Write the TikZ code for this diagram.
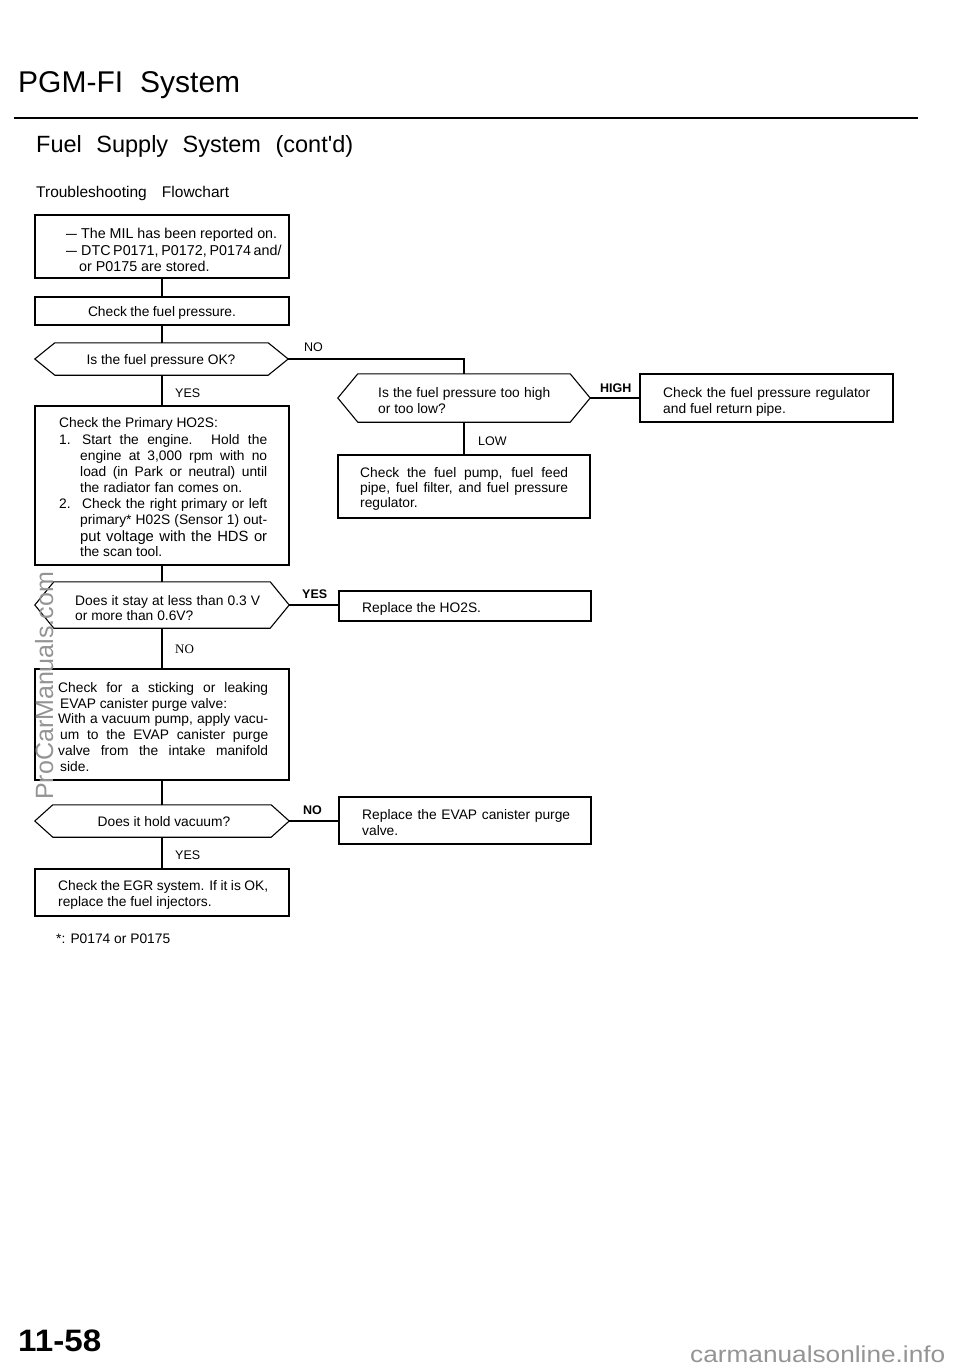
\documentclass[tikz,border=0pt]{standalone}
\usepackage{fontspec}
\setmainfont{Liberation Sans}
\newfontfamily\serfont{Liberation Serif}
\newcommand\jl[2]{\makebox[#1pt][s]{#2}}
\newcommand\hexdraw[2]{\draw[ln] (#1.west) -- ([xshift=#2]#1.north west) -- ([xshift=-#2]#1.north east) -- (#1.east) -- ([xshift=-#2]#1.south east) -- ([xshift=#2]#1.south west) -- cycle;}
\begin{document}
\begin{tikzpicture}[x=1pt,y=-1pt,
  ln/.style={line width=1.1pt},
  boxn/.style={draw, line width=1.1pt, inner sep=0pt},
  hexn/.style={inner sep=0pt},
  tx/.style={anchor=base west, inner sep=0pt, font=\fontsize{13.8}{16}\selectfont},
  lab/.style={anchor=base west, inner sep=0pt, font=\fontsize{12.5}{15}\selectfont},
  blab/.style={anchor=base west, inner sep=0pt, font=\bfseries\fontsize{12.5}{15}\selectfont},
  slab/.style={anchor=base west, inner sep=0pt, font=\serfont\fontsize{13}{15}\selectfont},
  wm/.style={anchor=base west, inner sep=0pt, text=black!42}]
\useasboundingbox (0,0) rectangle (960,1371);

% headings
\node[anchor=base west, inner sep=0pt, font=\fontsize{30}{34}\selectfont] (title) at (18,92) {\jl{222}{PGM-FI System}};
\draw[line width=2pt] (14,118) coordinate (r1) -- (918,118) coordinate (r2);
\node[anchor=base west, inner sep=0pt, font=\fontsize{23.5}{27}\selectfont] (sub) at (36,152) {\jl{317}{Fuel Supply System (cont\textquotesingle d)}};
\node[anchor=base west, inner sep=0pt, font=\fontsize{15.5}{18}\selectfont] (tf) at (36,197) {\jl{193}{Troubleshooting Flowchart}};

% shapes
\node[boxn, minimum width=254pt, minimum height=63pt] (b1) at (162,246.5) {};
\node[boxn, minimum width=254pt, minimum height=28pt] (b2) at (162,311) {};
\node[hexn, minimum width=253pt, minimum height=32pt] (q1) at (161.5,359) {};
\hexdraw{q1}{20pt}
\node[boxn, minimum width=254pt, minimum height=159pt] (b3) at (162,485.5) {};
\node[hexn, minimum width=254pt, minimum height=46pt] (q3) at (162,605) {};
\hexdraw{q3}{19pt}
\node[boxn, minimum width=254pt, minimum height=111pt] (b4) at (162,724.5) {};
\node[hexn, minimum width=254pt, minimum height=32pt] (q4) at (162,821) {};
\hexdraw{q4}{18pt}
\node[boxn, minimum width=254pt, minimum height=47pt] (b5) at (162,892.5) {};

\node[hexn, minimum width=252pt, minimum height=48pt] (q2) at (464,398) {};
\hexdraw{q2}{20pt}
\node[boxn, minimum width=253pt, minimum height=48pt] (hi) at (766.5,398) {};
\node[boxn, minimum width=252pt, minimum height=63pt] (low) at (464,486.5) {};
\node[boxn, minimum width=252pt, minimum height=30pt] (ho) at (465,606) {};
\node[boxn, minimum width=252pt, minimum height=47pt] (ev) at (465,820.5) {};

% connectors
\draw[ln] (b1.south) -- (b2.north);
\draw[ln] (b2.south) -- (q1.north -| b2.south);
\draw[ln] (q1.south -| b2.south) -- (b3.north);
\draw[ln] (b3.south) -- (q3.north);
\draw[ln] (q3.south) -- (b4.north);
\draw[ln] (b4.south) -- (q4.north);
\draw[ln] (q4.south) -- (b5.north);
\draw[ln] (q1.east) -| (q2.north);
\draw[ln] (q2.east) -- (hi.west);
\draw[ln] (q2.south) -- (low.north);
\draw[ln] (q3.east) -- (q3.east -| ho.west);
\draw[ln] (q4.east) -- (q4.east -| ev.west);

% labels
\node[lab] (lno1) at (304,351) {NO};
\node[lab] (lyes1) at (175,397) {YES};
\node[blab] (lhigh) at (600,392) {HIGH};
\node[lab] (llow) at (478,445) {LOW};
\node[blab] (lyes2) at (302,598) {YES};
\node[slab] (lno2) at (175,653) {NO};
\node[blab] (lno3) at (303,814) {NO};
\node[lab] (lyes3) at (175,859) {YES};

% box 1
\node[tx, font=\fontsize{14.3}{16}\selectfont] (d1) at (66,238) {\scalebox{0.76}[1]{—}};
\node[tx, font=\fontsize{14.3}{16}\selectfont] (t1a) at (81,238) {\jl{196}{The MIL has been reported on.}};
\node[tx, font=\fontsize{14.3}{16}\selectfont] (d2) at (66,255) {\scalebox{0.76}[1]{—}};
\node[tx, font=\fontsize{14.3}{16}\selectfont] (t1b) at (81,255) {\jl{196}{DTC P0171, P0172, P0174 and/}};
\node[tx, font=\fontsize{14.3}{16}\selectfont] (t1c) at (79,271) {or P0175 are stored.};
% box 2
\node[tx, anchor=base] (t2) at (162,316) {\jl{148}{Check the fuel pressure.}};
% q1
\node[tx, anchor=base] (tq1) at (161,364) {Is the fuel pressure OK?};
% box 3
\node[tx] (t3a) at (59,427) {Check the Primary HO2S:};
\node[tx] (t3n1) at (59,444) {1.};
\node[tx] (t3b) at (82,444) {\jl{185}{Start the engine. Hold the}};
\node[tx] (t3c) at (80,460) {\jl{187}{engine at 3,000 rpm with no}};
\node[tx] (t3d) at (80,476) {\jl{187}{load (in Park or neutral) until}};
\node[tx] (t3e) at (80,492) {\jl{162}{the radiator fan comes on.}};
\node[tx] (t3n2) at (59,508) {2.};
\node[tx] (t3f) at (82,508) {\jl{185}{Check the right primary or left}};
\node[tx] (t3g) at (80,524) {\jl{187}{primary* H02S (Sensor 1) out-}};
\node[tx, font=\fontsize{14.8}{16}\selectfont] (t3h) at (80,541) {\jl{187}{put voltage with the HDS or}};
\node[tx] (t3i) at (80,556) {the scan tool.};
% q3
\node[tx] (tq3a) at (75,605) {\jl{185}{Does it stay at less than 0.3 V}};
\node[tx] (tq3b) at (75,620) {or more than 0.6V?};
% box 4
\node[tx] (t4a) at (58,692) {\jl{210}{Check for a sticking or leaking}};
\node[tx] (t4b) at (60,708) {EVAP canister purge valve:};
\node[tx] (t4c) at (58,723) {\jl{210}{With a vacuum pump, apply vacu-}};
\node[tx] (t4d) at (60,739) {\jl{208}{um to the EVAP canister purge}};
\node[tx] (t4e) at (58,755) {\jl{210}{valve from the intake manifold}};
\node[tx] (t4f) at (60,771) {side.};
% q4
\node[tx, anchor=base] (tq4) at (164,826) {Does it hold vacuum?};
% box 5
\node[tx] (t5a) at (58,890) {\jl{210}{Check the EGR system. If it is OK,}};
\node[tx] (t5b) at (58,906) {replace the fuel injectors.};
% footnote
\node[tx] (fn) at (56,943) {*: P0174 or P0175};
% right column
\node[tx] (tq2a) at (378,397) {\jl{172}{Is the fuel pressure too high}};
\node[tx] (tq2b) at (378,413) {or too low?};
\node[tx] (thia) at (663,397) {\jl{207}{Check the fuel pressure regulator}};
\node[tx] (thib) at (663,413) {and fuel return pipe.};
\node[tx] (tla) at (360,477) {\jl{208}{Check the fuel pump, fuel feed}};
\node[tx] (tlb) at (360,492) {\jl{208}{pipe, fuel filter, and fuel pressure}};
\node[tx] (tlc) at (360,507) {regulator.};
\node[tx] (tho) at (362,612) {Replace the HO2S.};
\node[tx] (teva) at (362,819) {\jl{208}{Replace the EVAP canister purge}};
\node[tx] (tevb) at (362,835) {valve.};

% page number and watermarks
\node[anchor=base west, inner sep=0pt, font=\bfseries\fontsize{31}{34}\selectfont, xscale=1.07] (pg) at (18,1351) {11-58};
\node[wm, font=\fontsize{25}{28}\selectfont, rotate=90] (wm1) at (53,800) {ProCarManuals.com};
\node[wm, font=\fontsize{23}{26}\selectfont, xscale=1.14] (wm2) at (690,1362) {carmanualsonline.info};
\end{tikzpicture}
\end{document}
